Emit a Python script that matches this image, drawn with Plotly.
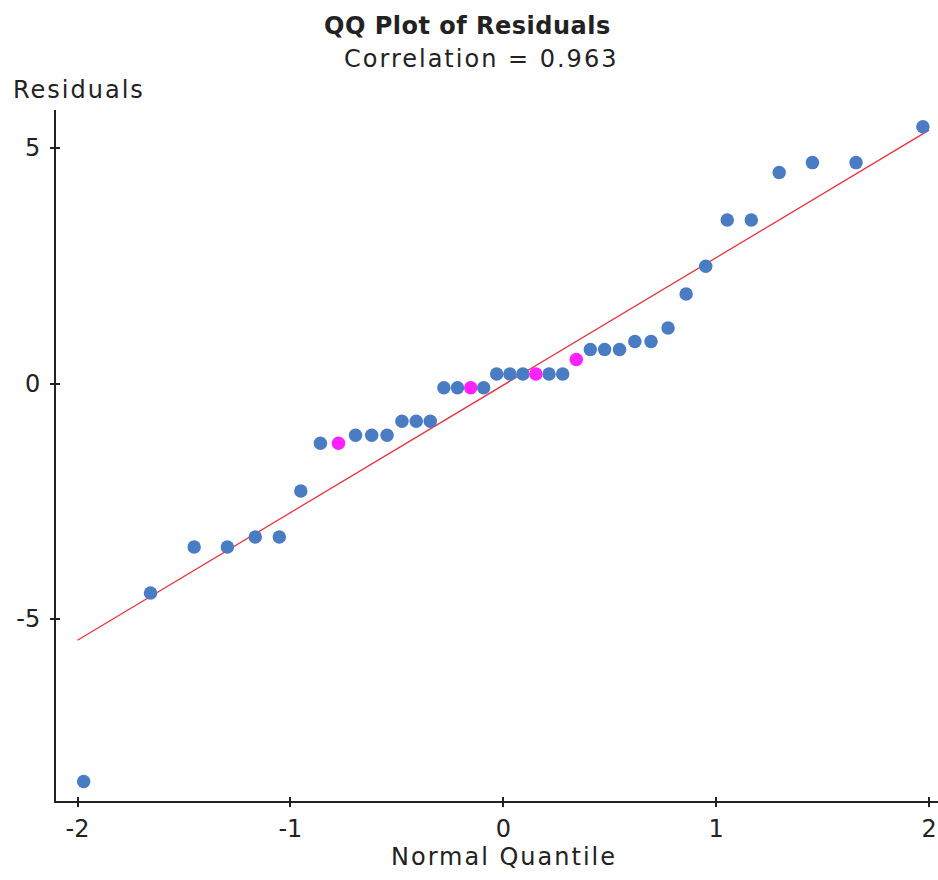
import plotly.graph_objects as go

# Normal quantiles (read from x positions)
quantiles = [-1.971, -1.657, -1.452, -1.296, -1.165, -1.052, -0.951, -0.859, -0.774, -0.694,
             -0.618, -0.546, -0.476, -0.409, -0.343, -0.279, -0.215, -0.153, -0.092, -0.031,
             0.031, 0.092, 0.153, 0.215, 0.279, 0.343, 0.409, 0.476, 0.546, 0.618,
             0.694, 0.774, 0.859, 0.951, 1.052, 1.165, 1.296, 1.452, 1.657, 1.971]
residuals = [-8.45, -4.45, -3.47, -3.47, -3.26, -3.26, -2.28, -1.27, -1.27, -1.1,
             -1.1, -1.1, -0.8, -0.8, -0.8, -0.09, -0.09, -0.09, -0.09, 0.2,
             0.2, 0.2, 0.2, 0.2, 0.2, 0.51, 0.72, 0.72, 0.72, 0.89,
             0.89, 1.18, 1.9, 2.49, 3.47, 3.47, 4.48, 4.69, 4.69, 5.45]
highlight = [8, 17, 22, 25]  # indices shown in magenta
line_x = [-2, 2]
line_y = [-5.45, 5.38]
x_ticks = [-2, -1, 0, 1, 2]
x_ticktext = ["-2", "-1", "0", "1", "2"]
y_ticks = [-5, 0, 5]
y_ticktext = ["-5", "0", "5"]

colors = ["#ff22ff" if i in highlight else "#4a7cc4" for i in range(len(quantiles))]

FONT = "DejaVu Sans"
TXT = "#222222"
W, H = 938, 880
ML, MR, MT, MB = 56, 0, 110, 79
PW, PH = W - ML - MR, H - MT - MB

XR = [-2.101, 2.042]
YR = [-8.864, 5.807]

fig = go.Figure()
fig.add_trace(go.Scatter(x=line_x, y=line_y, mode="lines",
                         line=dict(color="#e8333f", width=1.3), hoverinfo="skip"))
fig.add_trace(go.Scatter(x=quantiles, y=residuals, mode="markers",
                         marker=dict(color=colors, size=13.5, line=dict(width=0))))

common = dict(showgrid=False, zeroline=False, automargin=False, tickwidth=1.5,
              tickcolor=TXT, tickfont=dict(family=FONT, size=24, color=TXT))
fig.update_layout(
    width=W, height=H,
    margin=dict(l=ML, r=MR, t=MT, b=MB),
    paper_bgcolor="white", plot_bgcolor="white",
    showlegend=False,
    font=dict(family=FONT, color=TXT),
    xaxis=dict(range=XR, tickvals=x_ticks, ticktext=x_ticktext, showline=True,
               linecolor=TXT, linewidth=2, ticks="outside", ticklen=4,
               ticklabelstandoff=1, **common),
    yaxis=dict(range=YR, tickvals=y_ticks, ticktext=y_ticktext, showline=True,
               linecolor=TXT, linewidth=2, ticks="outside", ticklen=4,
               ticklabelstandoff=5, **common),
    xaxis2=dict(range=XR, tickvals=x_ticks, ticks="inside", ticklen=4,
                showticklabels=False, overlaying="x", showline=False, **common),
    yaxis2=dict(range=YR, tickvals=y_ticks, ticks="inside", ticklen=4,
                showticklabels=False, overlaying="y", showline=False, **common),
)
fig.add_trace(go.Scatter(x=[None], y=[None], xaxis="x2", yaxis="y2", showlegend=False))


def px_ann(text, px, py, size, xanchor="center", spacing=0):
    if spacing:
        text = f'<span style="letter-spacing:{spacing}px">{text}</span>'
    fig.add_annotation(text=text, xref="paper", yref="paper",
                       x=(px - ML) / PW, y=(H - MB - py) / PH,
                       xanchor=xanchor, yanchor="middle", showarrow=False,
                       font=dict(size=size, family=FONT, color=TXT))


px_ann("<b>QQ Plot of Residuals</b>", 467, 26, 24, spacing=0.5)
px_ann("Correlation = 0.963", 481, 59, 24, spacing=2)
px_ann("Residuals", 11, 90, 24, xanchor="left", spacing=2)
px_ann("Normal Quantile", 504, 857, 24, spacing=2)

fig.write_html("out.html", config={"displayModeBar": False},
               post_script="document.body.style.margin='0';document.body.style.overflow='hidden';")
